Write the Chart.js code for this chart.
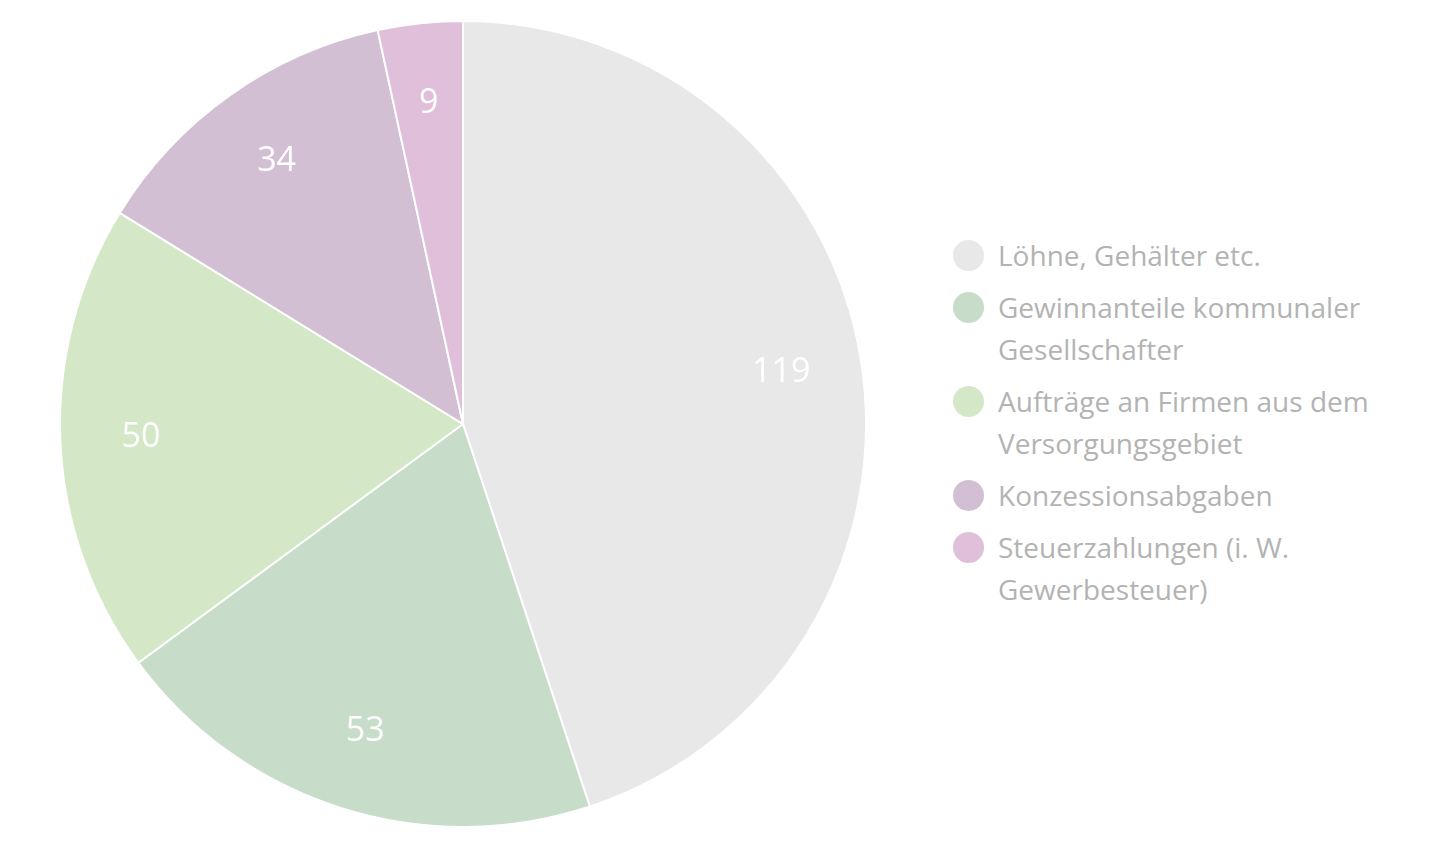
<!DOCTYPE html>
<html>
<head>
<meta charset="utf-8">
<script src="https://cdn.jsdelivr.net/npm/chart.js@4"></script>
<style>
  body { margin: 0; background: #fff; font-family: "Open Sans", sans-serif; }
  #wrap { position: absolute; left: 0; top: 0; width: 926px; height: 848px; }
  #legend { position: absolute; left: 952px; top: 234px; width: 470px; margin: 0; padding: 0; list-style: none; }
  #legend li { position: relative; padding-left: 46px; font-size: 28px; line-height: 42px; color: #b3b3b3; margin-bottom: 10px; }
  #legend span { position: absolute; left: 1px; top: 6px; width: 31px; height: 31px; border-radius: 50%; }
</style>
</head>
<body>
<div id="wrap"><canvas id="pie"></canvas></div>
<ul id="legend"></ul>
<script>
const labels = ['Löhne, Gehälter etc.', 'Gewinnanteile kommunaler Gesellschafter', 'Aufträge an Firmen aus dem Versorgungsgebiet', 'Konzessionsabgaben', 'Steuerzahlungen (i. W. Gewerbesteuer)'];
const values = [119, 53, 50, 34, 9];
const colors = ['#e8e8e8', '#c7dcc9', '#d4e8c8', '#d2bfd3', '#e0bfda'];

// Werte innerhalb der Segmente zeichnen
const sliceLabels = {
    id: 'sliceLabels',
    afterDatasetsDraw(chart) {
        const ctx = chart.ctx;
        const meta = chart.getDatasetMeta(0);
        ctx.save();
        ctx.fillStyle = '#ffffff';
        ctx.font = '34px "Open Sans", sans-serif';
        ctx.textAlign = 'center';
        ctx.textBaseline = 'middle';
        meta.data.forEach((arc, i) => {
            const p = arc.getProps(['x', 'y', 'startAngle', 'endAngle', 'outerRadius']);
            const mid = (p.startAngle + p.endAngle) / 2;
            const r = p.outerRadius * 0.8;
            ctx.fillText(values[i], p.x + Math.cos(mid) * r, p.y + Math.sin(mid) * r);
        });
        ctx.restore();
    }
};

new Chart(document.getElementById('pie'), {
    type: 'pie',
    data: {
        labels: labels,
        datasets: [{
            data: values,
            backgroundColor: colors,
            borderColor: '#ffffff',
            borderWidth: 2
        }]
    },
    options: {
        responsive: true,
        maintainAspectRatio: false,
        animation: false,
        layout: { padding: 20 },
        plugins: { legend: { display: false }, tooltip: { enabled: false } }
    },
    plugins: [sliceLabels]
});

const legend = document.getElementById('legend');
labels.forEach((l, i) => {
    const li = document.createElement('li');
    li.innerHTML = `<span style="background:${colors[i]}"></span>${l}`;
    legend.appendChild(li);
});
</script>
</body>
</html>
